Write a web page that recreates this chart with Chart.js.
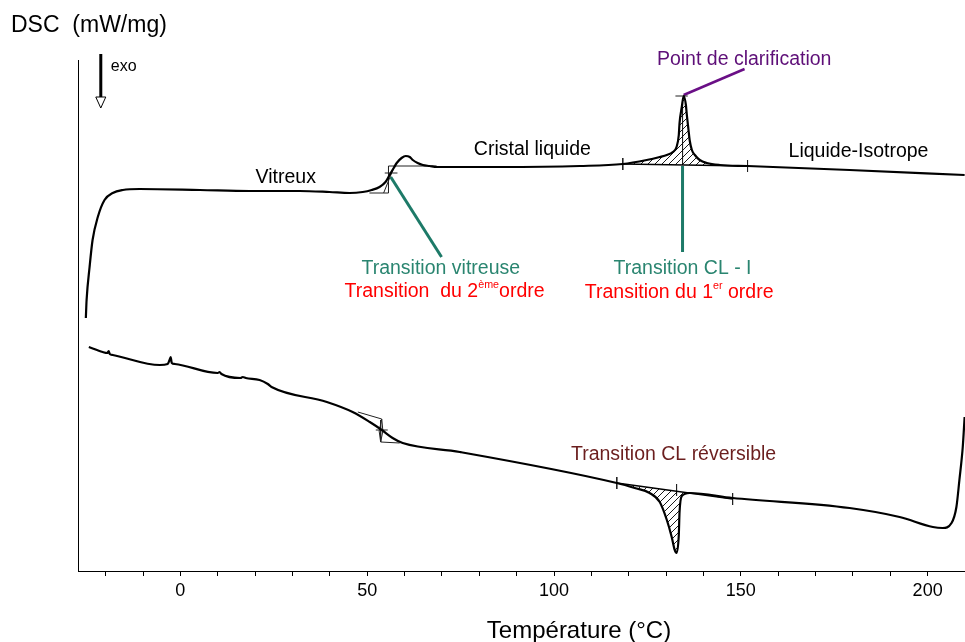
<!DOCTYPE html>
<html>
<head>
<meta charset="utf-8">
<script src="https://cdn.jsdelivr.net/npm/chart.js@4.4.0/dist/chart.umd.min.js"></script>
<style>
  html, body { margin: 0; padding: 0; background: #fff; }
  canvas { display: block; }
</style>
</head>
<body>
<canvas id="myChart" width="965" height="642"></canvas>
<script>
(function () {

    // heating run (upper curve), T in °C, DSC in mW/mg (arbitrary offset)
    const heatT = [-25.3, -25.1, -24.3, -23.5, -22.1, -20.3, -18.1, -15.4, -10.9, 5.2, 18.5, 31.9, 39.9, 45.3, 48.8,
        51.2, 53.3, 54.9, 56.0, 57.1, 57.9, 59.2, 60.3, 61.4, 62.2, 63.5, 64.9, 66.7, 68.6, 85.5, 106.9, 118.4, 124.8,
        128.3, 130.2, 131.8, 132.8, 133.4, 133.6, 134.2, 134.7, 135.3, 135.5, 136.0, 136.3, 136.9, 137.7, 139.0, 140.9,
        144.4, 151.8, 179.1, 209.9];
    const heatDSC = [2.53, 2.71, 3.04, 3.31, 3.54, 3.71, 3.78, 3.81, 3.82, 3.81, 3.80, 3.80, 3.79, 3.78, 3.79,
        3.81, 3.84, 3.89, 3.96, 4.03, 4.08, 4.13, 4.15, 4.14, 4.11, 4.08, 4.06, 4.05, 4.04, 4.04, 4.05, 4.07, 4.11,
        4.14, 4.16, 4.19, 4.24, 4.36, 4.48, 4.64, 4.75, 4.66, 4.58, 4.41, 4.31, 4.21, 4.16, 4.11, 4.08,
        4.06, 4.05, 4.01, 3.96];

    // cooling run (lower curve)
    const coolT = [-24.5, -20.8, -19.5, -19.2, -18.9, -18.1, -5.5, -3.4, -2.9, -2.6, -2.3, -1.5, 10.0, 10.5, 11.0,
        16.1, 16.7, 17.5, 21.2, 23.4, 24.4, 39.2, 46.1, 50.7, 53.9, 56.8, 59.5, 74.8, 116.8, 121.6, 125.6, 128.3,
        130.2, 131.5, 132.3, 132.8, 133.4, 133.6, 134.2, 136.3, 147.8, 179.1, 192.5, 201.4, 204.0, 206.4, 207.7,
        208.5, 209.4, 209.9];
    const coolDSC = [2.24, 2.19, 2.18, 2.20, 2.17, 2.16, 2.06, 2.07, 2.11, 2.14, 2.08, 2.07, 1.98, 1.99, 1.97,
        1.93, 1.94, 1.93, 1.91, 1.87, 1.84, 1.69, 1.59, 1.49, 1.41, 1.33, 1.28, 1.19, 0.88, 0.83, 0.78, 0.69,
        0.51, 0.34, 0.21, 0.18, 0.36, 0.59, 0.75, 0.78, 0.73, 0.63, 0.54, 0.44, 0.43, 0.48, 0.64,
        0.91, 1.24, 1.54];

    // integration baselines under the CL-I peaks
    const heatBaseT = [118.4, 151.8];
    const heatBaseDSC = [4.07, 4.05];
    const coolBaseT = [116.8, 147.8];
    const coolBaseDSC = [0.88, 0.72];

    // x axis
    const xTicks = [-20, -10, 0, 10, 20, 30, 40, 50, 60, 70, 80, 90, 100, 110, 120, 130, 140, 150, 160, 170, 180, 190, 200];
    const xLabels = [0, 50, 100, 150, 200];
    const xMin = -27.4;
    const xMax = 210;

    // thin construction lines (tangents, onset marks) as [T, DSC] polylines
    const constructions = [
        [[50.6, 3.78], [55.7, 3.78]],
        [[55.7, 4.05], [68.6, 4.05]],
        [[55.7, 4.05], [55.7, 3.78]],
        [[54.4, 3.78], [57.3, 4.05]],
        [[54.7, 3.98], [58.1, 3.98]],
        [[47.5, 1.59], [53.9, 1.52], [53.2, 1.40], [53.6, 1.29], [58.7, 1.28]],
        [[53.9, 1.52], [54.2, 1.40], [53.6, 1.29]],
        [[52.3, 1.41], [55.5, 1.41]],
        [[53.6, 1.51], [53.6, 1.29]],
        [[118.4, 4.13], [118.4, 4.01]],
        [[151.8, 4.11], [151.8, 3.99]],
        [[132.5, 4.75], [135.8, 4.75]],
        [[134.4, 4.72], [134.4, 4.06]],
        [[116.8, 0.94], [116.8, 0.82]],
        [[132.8, 0.87], [132.8, 0.75]],
        [[147.8, 0.78], [147.8, 0.66]]
    ];

    // leader lines from the labels to the transitions
    const leaders = [
        { pts: [[56.3, 3.94], [69.9, 3.14]], color: '#1d7a68', width: 3 },
        { pts: [[134.4, 4.05], [134.4, 3.19]], color: '#1d7a68', width: 3 },
        { pts: [[134.7, 4.76], [151.0, 5.02]], color: '#6a0f86', width: 2.5 }
    ];

    // labels: parts (sup = superscript), anchor in data units (centre, baseline)
    const labels = [
        { parts: [{ t: 'Vitreux' }], x: 28.2, y: 3.88, color: '#000' },
        { parts: [{ t: 'Cristal liquide' }], x: 94.2, y: 4.16, color: '#000' },
        { parts: [{ t: 'Point de clarification' }], x: 150.9, y: 5.06, color: '#5e0f78' },
        { parts: [{ t: 'Liquide-Isotrope' }], x: 181.5, y: 4.14, color: '#000' },
        { parts: [{ t: 'Transition vitreuse' }], x: 69.7, y: 2.97, color: '#2a8570' },
        { parts: [{ t: 'Transition  du 2' }, { t: 'ème', sup: true }, { t: 'ordre' }], x: 70.7, y: 2.74, color: '#ff0000' },
        { parts: [{ t: 'Transition CL - I' }], x: 134.4, y: 2.97, color: '#2a8570' },
        { parts: [{ t: 'Transition du 1' }, { t: 'er', sup: true }, { t: ' ordre' }], x: 133.5, y: 2.73, color: '#ff0000' },
        { parts: [{ t: 'Transition CL réversible' }], x: 132.0, y: 1.11, color: '#6b1e1e' }
    ];

    const fontFamily = "'Liberation Sans', Arial, sans-serif";
    const canvas = document.getElementById('myChart');
    const ctx = canvas.getContext('2d');

    const toPoints = (xs, ys) => xs.map((v, i) => ({ x: v, y: ys[i] }));
    const between = (xs, ys, a, b) => toPoints(xs, ys).filter(p => p.x >= a && p.x <= b);

    // diagonal hatch for the peak areas
    const hatchPattern = () => {
        const c = document.createElement('canvas');
        c.width = 7;
        c.height = 7;
        const g = c.getContext('2d');
        g.strokeStyle = '#000';
        g.lineWidth = 0.9;
        g.beginPath();
        g.moveTo(0, 7); g.lineTo(7, 0);
        g.moveTo(-1, 1); g.lineTo(1, -1);
        g.moveTo(6, 8); g.lineTo(8, 6);
        g.stroke();
        return ctx.createPattern(c, 'repeat');
    };
    const hatch = hatchPattern();

    const curve = (data) => ({
        data: data,
        borderColor: '#000',
        borderWidth: 2.2,
        pointRadius: 0,
        cubicInterpolationMode: 'monotone',
        fill: false
    });

    const thin = (pts, color, width) => ({
        data: pts.map(p => ({ x: p[0], y: p[1] })),
        borderColor: color,
        borderWidth: width,
        pointRadius: 0,
        tension: 0,
        fill: false
    });

    const datasets = [
        curve(toPoints(heatT, heatDSC)),
        curve(toPoints(coolT, coolDSC)),
        thin(toPoints(heatBaseT, heatBaseDSC).map(p => [p.x, p.y]), '#000', 1.5),
        {
            data: between(heatT, heatDSC, heatBaseT[0], heatBaseT[1]),
            borderColor: 'rgba(0,0,0,0)',
            pointRadius: 0,
            cubicInterpolationMode: 'monotone',
            backgroundColor: hatch,
            fill: 2
        },
        thin(toPoints(coolBaseT, coolBaseDSC).map(p => [p.x, p.y]), '#000', 1.5),
        {
            data: between(coolT, coolDSC, coolBaseT[0], coolBaseT[1]),
            borderColor: 'rgba(0,0,0,0)',
            pointRadius: 0,
            cubicInterpolationMode: 'monotone',
            backgroundColor: hatch,
            fill: 4
        }
    ];
    constructions.forEach(seg => datasets.push(thin(seg, '#222', 1)));
    leaders.forEach(l => datasets.push(thin(l.pts, l.color, l.width)));

    // texts, exo arrow and axis titles
    const drawRich = (c, parts, cx, by, size) => {
        let w = 0;
        parts.forEach(p => {
            c.font = (p.sup ? size * 0.55 : size) + 'px ' + fontFamily;
            p.w = c.measureText(p.t).width;
            w += p.w;
        });
        let px = cx - w / 2;
        parts.forEach(p => {
            c.font = (p.sup ? size * 0.55 : size) + 'px ' + fontFamily;
            c.fillText(p.t, px, p.sup ? by - size * 0.45 : by);
            px += p.w;
        });
    };

    const annotations = {
        id: 'annotations',
        afterDraw(chart) {
            const c = chart.ctx;
            const xs = chart.scales.x;
            const ys = chart.scales.y;
            c.save();
            c.textAlign = 'left';
            c.textBaseline = 'alphabetic';

            labels.forEach(l => {
                c.fillStyle = l.color;
                drawRich(c, l.parts, xs.getPixelForValue(l.x), ys.getPixelForValue(l.y), 19.5);
            });

            // exo arrow
            const ax = xs.getPixelForValue(-21.3);
            const top = ys.getPixelForValue(5.17);
            const shaftEnd = ys.getPixelForValue(4.74);
            const tip = ys.getPixelForValue(4.63);
            c.strokeStyle = '#000';
            c.lineWidth = 3;
            c.beginPath();
            c.moveTo(ax, top);
            c.lineTo(ax, shaftEnd);
            c.stroke();
            c.lineWidth = 1;
            c.fillStyle = '#fff';
            c.beginPath();
            c.moveTo(ax - 5, shaftEnd);
            c.lineTo(ax + 5, shaftEnd);
            c.lineTo(ax, tip);
            c.closePath();
            c.fill();
            c.stroke();

            c.fillStyle = '#000';
            c.font = '16px ' + fontFamily;
            c.fillText('exo', ax + 10, top + 17);

            c.font = '23px ' + fontFamily;
            c.fillText('DSC  (mW/mg)', 11, 32);

            c.font = '24px ' + fontFamily;
            c.textAlign = 'center';
            c.fillText('Température (°C)', 579, 638);
            c.restore();
        }
    };

    new Chart(ctx, {
        type: 'line',
        data: { datasets: datasets },
        options: {
            responsive: false,
            animation: false,
            devicePixelRatio: 1,
            layout: { padding: { left: 78, top: 60, right: 0, bottom: 0 } },
            plugins: {
                legend: { display: false },
                tooltip: { enabled: false }
            },
            scales: {
                x: {
                    type: 'linear',
                    min: xMin,
                    max: xMax,
                    afterFit: s => { s.height = 71; },
                    afterBuildTicks: s => { s.ticks = xTicks.map(v => ({ value: v })); },
                    grid: { drawOnChartArea: false, drawTicks: true, tickLength: 5, color: '#000', lineWidth: 1 },
                    border: { display: true, color: '#000', width: 1 },
                    ticks: {
                        autoSkip: false,
                        maxRotation: 0,
                        padding: 4,
                        color: '#000',
                        font: { family: fontFamily, size: 18 },
                        callback: v => (xLabels.includes(v) ? String(v) : '')
                    }
                },
                y: {
                    min: 0,
                    max: 5.11,
                    afterFit: s => { s.width = 0; },
                    grid: { display: false },
                    border: { display: true, color: '#000', width: 1 },
                    ticks: { display: false }
                }
            }
        },
        plugins: [annotations]
    });

})();
</script>
</body>
</html>
